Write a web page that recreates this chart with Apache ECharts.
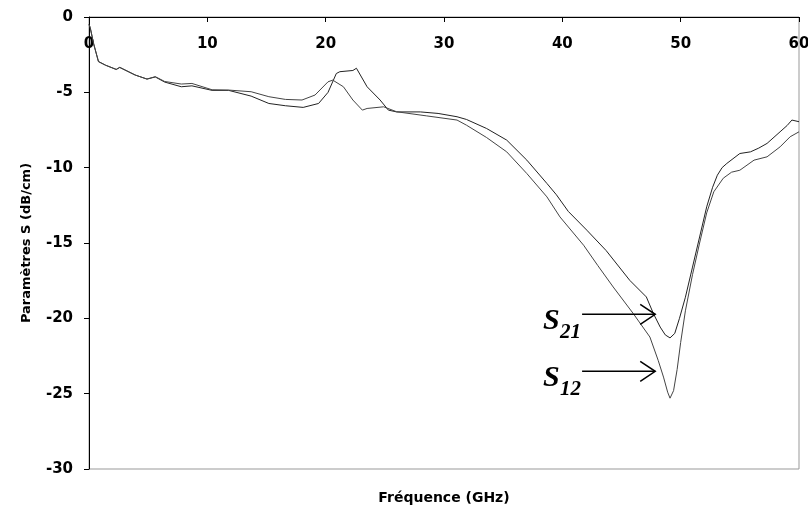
<!DOCTYPE html>
<html>
<head>
<meta charset="utf-8">
<style>html,body{margin:0;padding:0;background:#fff;}#c{width:808px;height:506px;}</style>
<script src="https://cdn.jsdelivr.net/npm/echarts/dist/echarts.min.js"></script>
</head>
<body>
<div id="c"></div>
<script>
// ---- data (frequency GHz, S-parameter dB/cm) ----
const xTicks = [0, 10, 20, 30, 40, 50, 60];
const yTicks = [0, -5, -10, -15, -20, -25, -30];

const s21 = [
  [0, -0.5], [0.1, -0.7], [0.4, -1.8], [0.8, -2.95], [1.4, -3.2], [2.3, -3.48], [2.6, -3.35],
  [3.9, -3.85], [4.9, -4.12], [5.6, -3.98], [6.4, -4.32], [7.8, -4.63], [8.7, -4.57],
  [10.4, -4.87], [11.8, -4.87], [13.7, -5.25], [15.2, -5.74], [16.6, -5.89], [18.1, -6.0],
  [19.4, -5.74], [20.2, -5.0], [20.9, -3.75], [21.2, -3.63], [22.3, -3.55], [22.6, -3.4],
  [23.5, -4.63], [24.6, -5.51], [25.3, -6.18], [26.0, -6.3], [28.0, -6.3], [29.5, -6.4],
  [31.1, -6.62], [31.9, -6.8], [33.6, -7.4], [35.3, -8.17], [37.0, -9.5], [38.7, -11.05],
  [39.5, -11.8], [40.5, -12.9], [42.07, -14.15], [43.7, -15.5], [45.7, -17.48], [47.1, -18.58],
  [47.7, -19.69], [48.27, -20.58], [48.7, -21.1], [49.1, -21.3], [49.5, -21.0], [49.9, -20.0],
  [50.4, -18.6], [51.0, -16.6], [51.6, -14.6], [52.2, -12.6], [52.7, -11.3], [53.1, -10.5],
  [53.5, -10.0], [53.9, -9.72], [55.0, -9.06], [55.9, -8.95], [56.6, -8.7], [57.3, -8.39],
  [58.4, -7.62], [59.0, -7.2], [59.4, -6.84], [60.0, -6.95]
];

const s12 = [
  [0, -0.5], [0.1, -0.7], [0.4, -1.8], [0.8, -2.97], [1.4, -3.2], [2.3, -3.48], [2.6, -3.34],
  [3.9, -3.85], [4.9, -4.12], [5.6, -3.96], [6.4, -4.28], [7.8, -4.45], [8.7, -4.41],
  [10.4, -4.83], [11.8, -4.85], [13.7, -4.96], [15.2, -5.29], [16.6, -5.47], [18.0, -5.51],
  [19.1, -5.18], [20.2, -4.3], [20.6, -4.19], [21.5, -4.63], [22.3, -5.51], [23.1, -6.18],
  [23.5, -6.07], [24.9, -5.96], [26.0, -6.29], [28.5, -6.56], [31.1, -6.84], [31.9, -7.18],
  [33.6, -8.0], [35.3, -8.95], [37.0, -10.39], [38.7, -11.94], [39.8, -13.27], [41.8, -15.15],
  [43.0, -16.5], [44.3, -17.92], [46.0, -19.69], [47.4, -21.24], [48.1, -22.79], [48.55, -23.9],
  [48.9, -24.9], [49.1, -25.3], [49.4, -24.8], [49.7, -23.4], [50.0, -21.6], [50.4, -19.5],
  [51.0, -17.1], [51.6, -15.0], [52.2, -13.0], [52.8, -11.6], [53.6, -10.7], [54.3, -10.3],
  [55.0, -10.17], [56.2, -9.5], [57.3, -9.28], [58.4, -8.62], [59.25, -7.95], [60.0, -7.62]
];

// annotation anchors (data coords: arrow start and tip)
const annLabels = [
  { main: 'S', sub: '21', from: [41.67, -19.73], to: [47.85, -19.73] },
  { main: 'S', sub: '12', from: [41.67, -23.52], to: [47.85, -23.52] }
];

const axisFont = { fontFamily: 'DejaVu Sans', fontWeight: 'bold', fontSize: 15, color: '#000' };

const chart = echarts.init(document.getElementById('c'), null, { renderer: 'canvas' });
chart.setOption({
  animation: false,
  backgroundColor: '#fff',
  grid: { left: 89, right: 9, top: 17, bottom: 37, show: true, borderColor: '#999', borderWidth: 1,
          containLabel: false, outerBoundsMode: 'none' },
  xAxis: [
    {
      type: 'value', position: 'top', min: xTicks[0], max: xTicks[xTicks.length - 1], interval: 10,
      axisLine: { show: true, onZero: false, lineStyle: { color: '#000', width: 1 } },
      axisTick: { show: true, inside: true, length: 5, lineStyle: { color: '#000' } },
      axisLabel: Object.assign({ inside: true, margin: 20 }, axisFont),
      splitLine: { show: false }
    },
    {
      type: 'value', position: 'bottom', min: xTicks[0], max: xTicks[xTicks.length - 1],
      axisLine: { show: false }, axisTick: { show: false }, axisLabel: { show: false },
      splitLine: { show: false },
      name: 'Fréquence (GHz)', nameLocation: 'middle', nameGap: 22,
      nameTextStyle: { fontFamily: 'DejaVu Sans', fontWeight: 'bold', fontSize: 14, color: '#000' }
    }
  ],
  yAxis: {
    type: 'value', min: yTicks[yTicks.length - 1], max: yTicks[0], interval: 5,
    axisLine: { show: true, onZero: false, lineStyle: { color: '#000', width: 1 } },
    axisTick: { show: true, inside: false, length: 5, lineStyle: { color: '#000' } },
    axisLabel: Object.assign({ margin: 16 }, axisFont),
    splitLine: { show: false },
    name: 'Paramètres S (dB/cm)', nameLocation: 'middle', nameGap: 56,
    nameTextStyle: { fontFamily: 'DejaVu Sans', fontWeight: 'bold', fontSize: 13, color: '#000' }
  },
  series: [
    { name: 'S21', type: 'line', xAxisIndex: 0, data: s21, showSymbol: false, smooth: false,
      lineStyle: { color: '#222', width: 1 } },
    { name: 'S12', type: 'line', xAxisIndex: 0, data: s12, showSymbol: false, smooth: false,
      lineStyle: { color: '#444', width: 1 } }
  ]
});

const elements = [];
annLabels.forEach(a => {
  const p0 = chart.convertToPixel({ xAxisIndex: 0, yAxisIndex: 0 }, a.from);
  const p1 = chart.convertToPixel({ xAxisIndex: 0, yAxisIndex: 0 }, a.to);
  elements.push({ type: 'line', shape: { x1: p0[0], y1: p0[1], x2: p1[0], y2: p1[1] },
    style: { stroke: '#000', lineWidth: 1.5 }, z: 10 });
  elements.push({ type: 'polyline', shape: { points: [[p1[0] - 15, p1[1] - 10], [p1[0], p1[1]], [p1[0] - 15, p1[1] + 10]] },
    style: { stroke: '#000', lineWidth: 1.5, fill: null }, z: 10 });
  elements.push({ type: 'text', x: p0[0] - 39, y: p0[1] + 7, z: 10,
    style: { text: a.main, font: 'italic bold 30px "Liberation Serif"', fill: '#000', textAlign: 'left', textVerticalAlign: 'middle' } });
  elements.push({ type: 'text', x: p0[0] - 22, y: p0[1] + 18, z: 10,
    style: { text: a.sub, font: 'italic bold 21px "Liberation Serif"', fill: '#000', textAlign: 'left', textVerticalAlign: 'middle' } });
});
chart.setOption({ graphic: elements });
</script>
</body>
</html>
